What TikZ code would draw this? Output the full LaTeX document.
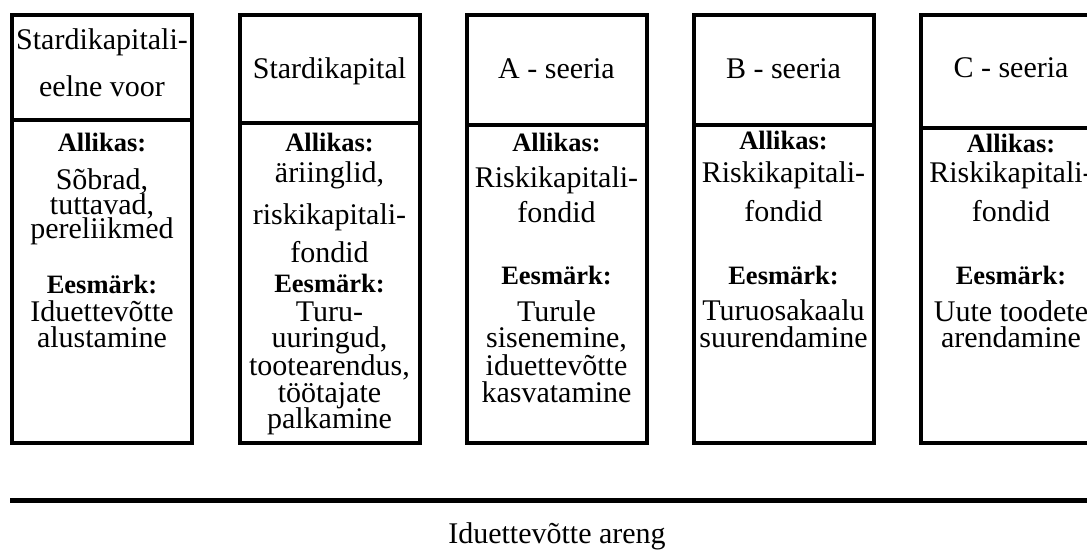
\documentclass[tikz,border=0pt]{standalone}
\usepackage{fontspec}
\setmainfont{Liberation Serif}
\begin{document}
\begin{tikzpicture}[x=1pt,y=-1pt,
  frame/.style={draw=black, line width=4pt, inner sep=0pt, minimum width=180pt},
  tx/.style={anchor=base, inner sep=0pt, font=\fontsize{30}{36}\selectfont},
  bx/.style={anchor=base, inner sep=0pt, font=\fontsize{26.5}{32}\selectfont\bfseries},
  rule/.style={line width=5pt}]
\useasboundingbox (0,0) rectangle (1087,553);
\clip (0,0) rectangle (1087,553);
% frames
\node[frame, minimum height=105pt] (c1top) at (102,67.5) {};
\node[frame, minimum height=323pt] (c1bot) at (102,281.5) {};
\node[frame, minimum height=108pt] (c2top) at (329.5,69) {};
\node[frame, minimum height=320pt] (c2bot) at (329.5,283) {};
\node[frame, minimum height=110pt] (c3top) at (556.5,70) {};
\node[frame, minimum height=318pt] (c3bot) at (556.5,284) {};
\node[frame, minimum height=110pt] (c4top) at (783.5,70) {};
\node[frame, minimum height=318pt] (c4bot) at (783.5,284) {};
\node[frame, minimum height=113pt] (c5top) at (1011,71.5) {};
\node[frame, minimum height=315pt] (c5bot) at (1011,285.5) {};
% column 1
\node[tx] (c1h1) at (102,50) {Stardikapitali-};
\node[tx] (c1h2) at (102,97) {eelne voor};
\node[bx] (c1a) at (102,152) {Allikas:};
\node[tx] (c1a1) at (102,190) {Sõbrad,};
\node[tx] (c1a2) at (102,214.5) {tuttavad,};
\node[tx] (c1a3) at (102,239) {pereliikmed};
\node[bx] (c1e) at (102,294) {Eesmärk:};
\node[tx] (c1e1) at (102,322) {Iduettevõtte};
\node[tx] (c1e2) at (102,348) {alustamine};
% column 2
\node[tx] (c2h1) at (329.5,79) {Stardikapital};
\node[bx] (c2a) at (329.5,152) {Allikas:};
\node[tx] (c2a1) at (329.5,183) {äriinglid,};
\node[tx] (c2a2) at (329.5,225) {riskikapitali-};
\node[tx] (c2a3) at (329.5,263) {fondid};
\node[bx] (c2e) at (329.5,293) {Eesmärk:};
\node[tx] (c2e1) at (329.5,322) {Turu-};
\node[tx] (c2e2) at (329.5,348) {uuringud,};
\node[tx] (c2e3) at (329.5,375) {tootearendus,};
\node[tx] (c2e4) at (329.5,402) {töötajate};
\node[tx] (c2e5) at (329.5,428) {palkamine};
% column 3
\node[tx] (c3h1) at (556.5,79) {A - seeria};
\node[bx] (c3a) at (556.5,152) {Allikas:};
\node[tx] (c3a1) at (556.5,188) {Riskikapitali-};
\node[tx] (c3a2) at (556.5,223) {fondid};
\node[bx] (c3e) at (556.5,285) {Eesmärk:};
\node[tx] (c3e1) at (556.5,322) {Turule};
\node[tx] (c3e2) at (556.5,348) {sisenemine,};
\node[tx] (c3e3) at (556.5,375) {iduettevõtte};
\node[tx] (c3e4) at (556.5,402) {kasvatamine};
% column 4
\node[tx] (c4h1) at (783.5,79) {B - seeria};
\node[bx] (c4a) at (783.5,150) {Allikas:};
\node[tx] (c4a1) at (783.5,183) {Riskikapitali-};
\node[tx] (c4a2) at (783.5,222) {fondid};
\node[bx] (c4e) at (783.5,285) {Eesmärk:};
\node[tx] (c4e1) at (783.5,320) {Turuosakaalu};
\node[tx] (c4e2) at (783.5,348) {suurendamine};
% column 5
\node[tx] (c5h1) at (1011,78) {C - seeria};
\node[bx] (c5a) at (1011,153) {Allikas:};
\node[tx] (c5a1) at (1011,183) {Riskikapitali-};
\node[tx] (c5a2) at (1011,222) {fondid};
\node[bx] (c5e) at (1011,285) {Eesmärk:};
\node[tx] (c5e1) at (1011,322) {Uute toodete};
\node[tx] (c5e2) at (1011,348) {arendamine};
% timeline
\coordinate (l0) at (10,500);
\coordinate (l1) at (1095,500);
\draw[rule] (l0) -- (l1);
\node[tx] (cap) at (557,543) {Iduettevõtte areng};
\end{tikzpicture}
\end{document}
